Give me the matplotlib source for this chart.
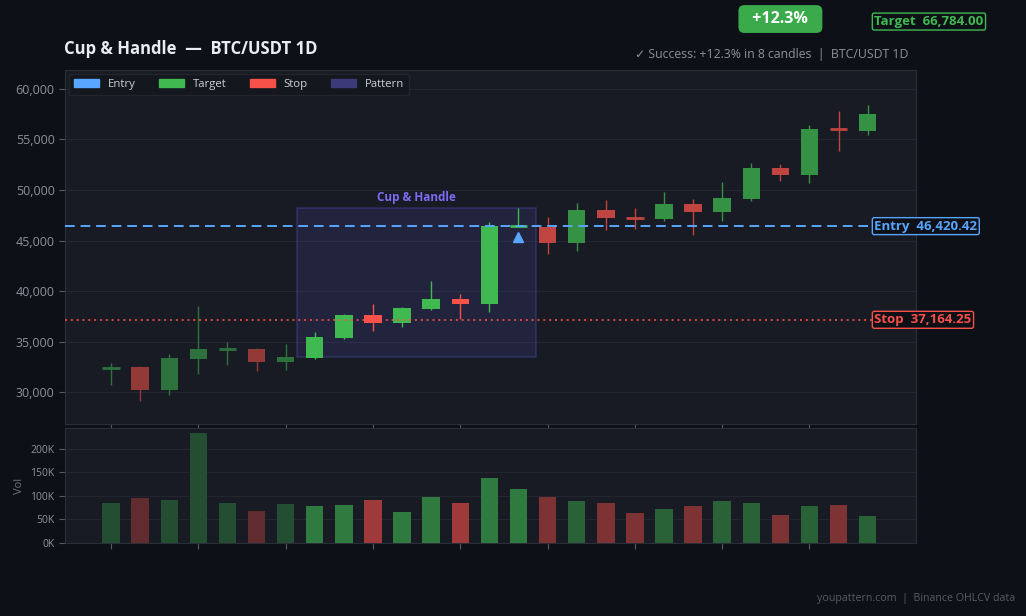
import matplotlib
matplotlib.use("Agg")
import matplotlib.pyplot as plt
import matplotlib.transforms as mtransforms
from matplotlib.colors import to_rgb
from matplotlib.patches import Rectangle, Patch
from matplotlib.ticker import FuncFormatter

plt.rcParams["font.family"] = ["Open Sans", "DejaVu Sans"]

# ---- data ----
opens = [32300, 32500, 30260, 33320, 34250, 34280, 33030, 33420, 35400, 37610,
         36880, 38260, 39220, 38760, 46430, 46370, 44790, 48010, 47280, 47150,
         48610, 47850, 49130, 52170, 51500, 56000, 55850]
closes = [32450, 30260, 33390, 34280, 34300, 33030, 33490, 35470, 37610, 36880,
          38300, 39220, 38760, 46430, 46450, 44790, 48010, 47250, 47230, 48610,
          47850, 49200, 52170, 51500, 56020, 55950, 57500]
highs = [32870, 32630, 33790, 38530, 34970, 34410, 34770, 35960, 37700, 38730,
         38400, 41000, 39720, 46800, 48210, 47330, 48710, 49000, 48210, 49790,
         49100, 50780, 52660, 52560, 56410, 57800, 58390]
lows = [30725, 29175, 29770, 31840, 32700, 32140, 32240, 33300, 35270, 36090,
        36480, 38140, 37250, 37970, 46300, 43700, 43990, 46070, 46140, 46960,
        45540, 46960, 48930, 50910, 50710, 53870, 55450]
volumes = [85.7, 96.4, 92.1, 232.6, 85.7, 68.7, 83.6, 79.4, 81.5, 92.1,
           66.6, 98.5, 85.7, 138.9, 115.5, 98.5, 90.0, 85.7, 64.5, 73.0,
           79.4, 90.0, 85.7, 60.3, 79.4, 81.5, 58.2]  # thousands

entry_price = 46420.42
stop_price = 37164.25
target_price = 66784.00
entry_idx = 14
entry_marker_price = 45380
success_idx = 23
pattern_start, pattern_end = 7, 14
pattern_low, pattern_high = 33450, 48210

# ---- colours ----
BG = "#0d1017"
AX_BG = "#181b23"
GRID = "#222631"
SPINE = "#2a2e38"
TXT = "#8b929c"
GREEN = "#3fb950"
RED = "#f85149"
BLUE = "#58a6ff"
PURPLE = "#6366f1"


def fade(col, a):
    # flat blend over the axes background so overlapping marks stay uniform
    c, b = to_rgb(col), to_rgb(AX_BG)
    return tuple(b[k] + a * (c[k] - b[k]) for k in range(3))


fig = plt.figure(figsize=(10.26, 6.16), dpi=100, facecolor=BG)
ax = fig.add_axes([0.0634, 0.3117, 0.8294, 0.5747])
axv = fig.add_axes([0.0634, 0.1185, 0.8294, 0.1867], sharex=ax)

for a in (ax, axv):
    a.set_facecolor(AX_BG)
    for s in a.spines.values():
        s.set_color(SPINE)
    a.tick_params(colors=TXT, labelsize=9, length=4, color="#555a63")
    a.grid(True, axis="y", color=GRID, linewidth=0.8)
    a.set_axisbelow(True)

n = len(opens)


def phase_alpha(i, pre, mid, post):
    if i < pattern_start:
        return pre
    if i <= pattern_end:
        return mid
    return post


# pattern box
ax.add_patch(Rectangle((pattern_start - 0.6, pattern_low),
                       (pattern_end - pattern_start) + 1.2, pattern_high - pattern_low,
                       facecolor=PURPLE, alpha=0.12, edgecolor="none", zorder=1))
ax.add_patch(Rectangle((pattern_start - 0.6, pattern_low),
                       (pattern_end - pattern_start) + 1.2, pattern_high - pattern_low,
                       facecolor="none", edgecolor=PURPLE, alpha=0.25, lw=1.2, zorder=1))
ax.text((pattern_start + pattern_end) / 2, pattern_high + 350, "Cup & Handle",
        color="#7b6cf0", fontsize=8.5, fontweight="bold", ha="center", va="bottom")

# candles
for i in range(n):
    up = closes[i] >= opens[i]
    col = fade(GREEN if up else RED, phase_alpha(i, 0.55, 1.0, 0.75))
    ax.vlines(i, lows[i], highs[i], color=col, lw=1.0, zorder=3)
    if abs(closes[i] - opens[i]) < 160:
        mid = (opens[i] + closes[i]) / 2
        ax.hlines(mid, i - 0.3, i + 0.3, color=col, lw=2.0, zorder=4)
    else:
        lo = min(opens[i], closes[i])
        ax.bar(i, abs(closes[i] - opens[i]), bottom=lo, width=0.6, color=col, zorder=4)

# levels
ax.axhline(entry_price, color=BLUE, ls=(0, (5, 3)), lw=1.4, zorder=5)
ax.axhline(stop_price, color=RED, ls=(0, (1, 2)), lw=1.4, alpha=0.85, zorder=5)
ax.plot(entry_idx, entry_marker_price, marker="^", color=BLUE, markersize=7, zorder=6)

lbl_tr = mtransforms.blended_transform_factory(ax.transAxes, ax.transData)
for y, txt, col in [(entry_price, "Entry  46,420.42", BLUE),
                    (stop_price, "Stop  37,164.25", RED),
                    (target_price - 150, "Target  66,784.00", GREEN)]:
    ax.text(0.951, y, txt, transform=lbl_tr, color=col, fontsize=9.5,
            fontweight="bold", va="center", ha="left", clip_on=False, zorder=10,
            bbox=dict(boxstyle="round,pad=0.15", fc=BG, ec=col, lw=1))

ax.text(success_idx, target_price + 100, "  +12.3%  ", color="white", fontsize=11.5,
        fontweight="bold", ha="center", va="center", clip_on=False, zorder=10,
        bbox=dict(boxstyle="round,pad=0.37", fc="#3aaa4a", ec="none"))

ax.set_xlim(-1.58, 27.66)
ax.set_ylim(26870, 61850)
ax.set_xticks(range(0, n, 3))
ax.tick_params(axis="x", labelbottom=False)
ax.yaxis.set_major_formatter(FuncFormatter(lambda v, p: f"{v:,.0f}"))

leg = ax.legend(handles=[Patch(color=BLUE, label="Entry"),
                         Patch(color=GREEN, label="Target"),
                         Patch(color=RED, label="Stop"),
                         Patch(color="#3d3a7a", label="Pattern")],
                loc="upper left", ncol=4, fontsize=8.2, frameon=True,
                facecolor="#14171e", edgecolor="#22252d", labelcolor="#c9d1d9",
                handlelength=2.2, handleheight=0.7, columnspacing=2.0,
                borderaxespad=0.35, borderpad=0.45)
leg.get_frame().set_alpha(1)

# volume
for i in range(n):
    up = closes[i] >= opens[i]
    col = fade(GREEN if up else RED, phase_alpha(i, 0.32, 0.6, 0.45))
    axv.bar(i, volumes[i], width=0.6, color=col, zorder=3)
axv.set_ylim(0, max(volumes) * 1.05)
axv.set_yticks([0, 50, 100, 150, 200])
axv.yaxis.set_major_formatter(FuncFormatter(lambda v, p: f"{v:.0f}K"))
axv.tick_params(axis="y", labelsize=7.5)
axv.tick_params(axis="x", labelbottom=False)
axv.set_ylabel("Vol", color="#6e7681", fontsize=8)

fig.text(0.0624, 0.921, "Cup & Handle  —  BTC/USDT 1D", color="#e6edf3",
         fontsize=12, fontweight="bold", ha="left", va="center")
fig.text(0.885, 0.911, "✓ Success: +12.3% in 8 candles  |  BTC/USDT 1D",
         color=TXT, fontsize=8.8, ha="right", va="center")
fig.text(0.989, 0.029, "youpattern.com  |  Binance OHLCV data", color="#565c66",
         fontsize=7.7, ha="right", va="center")

fig.savefig("out.png", dpi=100, facecolor=BG)
